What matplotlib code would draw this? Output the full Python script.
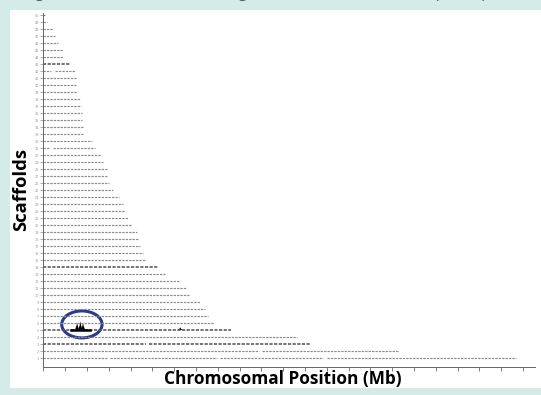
import matplotlib.pyplot as plt
from matplotlib.patches import Ellipse, Rectangle

# scaffold lengths in Mb, top row first (shortest) down to the longest
scaffold_len = [0.08, 0.17, 0.44, 0.54, 0.67, 0.90, 0.90, 1.22, 1.45, 1.50,
                1.50, 1.55, 1.69, 1.73, 1.78, 1.78, 1.82, 1.82, 2.23, 2.37,
                2.65, 2.74, 2.97, 2.92, 3.01, 3.20, 3.47, 3.66, 3.75, 3.88,
                4.07, 4.30, 4.34, 4.44, 4.57, 4.71, 5.26, 5.58, 6.27, 6.55,
                6.68, 7.19, 7.42, 7.56, 7.83, 8.61, 11.64, 12.23, 16.32, 21.68]
# gaps without aligned reads: (row from top, start Mb, end Mb)
gaps = [(49, 2.92, 3.05), (49, 7.95, 8.10), (49, 12.85, 13.0),
        (48, 9.88, 10.05), (47, 4.72, 4.85), (8, 0.35, 0.55), (19, 0.30, 0.45)]
dark_rows = [7, 36, 45, 47]
peak_row = 45
peak_pos = [1.55, 1.70, 1.82, 6.28]
peak_h = [1.1, 1.25, 1.05, 0.4]

n = len(scaffold_len)

fig = plt.figure(figsize=(5.41, 3.95), dpi=100)
fig.patch.set_facecolor('#d4ebe7')
bg = fig.add_axes([10 / 541, 1 - 388 / 395, 531 / 541, 378 / 395], zorder=-5)
bg.set_facecolor('white')
bg.axis('off')
bg.add_patch(Rectangle((0, 0), 1, 1, transform=bg.transAxes, facecolor='white', edgecolor='none'))

ax = fig.add_axes([43.3 / 541, 1 - 366.7 / 395, (535 - 43.3) / 541, (366.7 - 13) / 395], zorder=1)
ax.set_facecolor('none')

for i, L in enumerate(scaffold_len):
    yv = n - i
    pieces = [(0.0, L)]
    for r, a, b in gaps:
        if r == i:
            new = []
            for s, e in pieces:
                if a > s and b < e:
                    new += [(s, a), (b, e)]
                else:
                    new.append((s, e))
            pieces = new
    col = '#555555' if i in dark_rows else '#8c8c8c'
    lw = 1.15 if i in dark_rows else 0.85
    for s, e in pieces:
        ax.plot([s, e], [yv, yv], color=col, lw=lw, ls=(0, (2.0, 0.9)),
                solid_capstyle='butt')

# read pile-ups on the highlighted scaffold
base = n - peak_row
for p, h in zip(peak_pos, peak_h):
    ax.fill([p - 0.1, p - 0.03, p, p + 0.03, p + 0.1],
            [base, base + h * 0.55, base + h, base + h * 0.55, base],
            color='black', lw=0)
ax.plot([peak_pos[0] - 0.3, peak_pos[2] + 0.3], [base, base], color='black', lw=1.8)

cx = sum(peak_pos[:3]) / 3
ax.add_patch(Ellipse((cx + 0.08, base + 0.8), 1.85, 3.85, fill=False,
                     edgecolor='#2b3990', lw=2.2))

ax.set_xlim(0, 22.55)
ax.set_ylim(-0.24, n + 0.29)
ax.set_xticks(range(0, 23))
ax.set_xticklabels([])
ax.set_yticks(range(1, n + 1))
ax.set_yticklabels([str(k) for k in range(1, n + 1)], fontsize=2.5, color='#999999')
ax.tick_params(axis='x', length=3, width=0.6, color='#666666')
ax.tick_params(axis='y', length=2, width=0.5, color='#888888', pad=1)
for s in ['top', 'right']:
    ax.spines[s].set_visible(False)
for s in ['left', 'bottom']:
    ax.spines[s].set_color('#666666')
    ax.spines[s].set_linewidth(0.7)

fig.text(21 / 541, 1 - 189 / 395, 'Scaffolds', rotation=90, ha='center', va='center',
         fontsize=13.2, fontweight='bold', family='Open Sans')
fig.text(283 / 541, 1 - 379 / 395, 'Chromosomal Position (Mb)', ha='center', va='center',
         fontsize=12.4, fontweight='bold', family='Open Sans')
fig.text(18 / 541, 1 + 6.2 / 395, 'Alignment of the scaffolds along the chromosome, read depth in position',
         ha='left', va='center', fontsize=11, color='#555555', family='Open Sans')

fig.savefig('out.png', dpi=100, facecolor=fig.get_facecolor())
